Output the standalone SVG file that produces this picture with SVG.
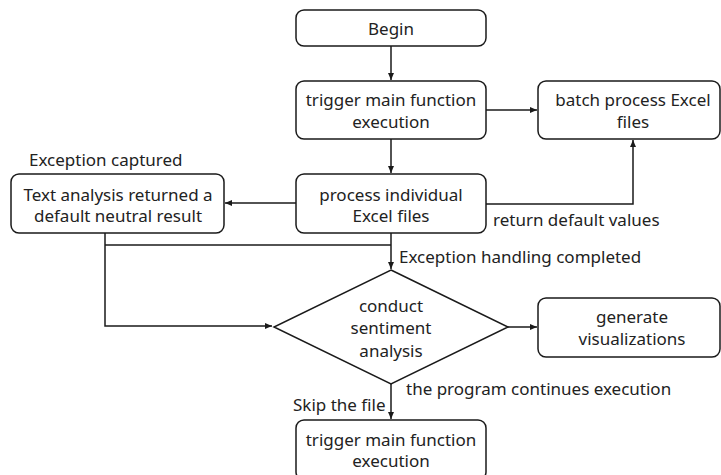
<svg xmlns="http://www.w3.org/2000/svg" width="721" height="475" viewBox="0 0 721 475">
<defs>
<marker id="ah" markerWidth="8" markerHeight="8" refX="7" refY="4" orient="auto" markerUnits="userSpaceOnUse">
<path d="M0,1 L7,4 L0,7 Z" fill="#1a1a1a"/>
</marker>
<style>
.box{fill:#fff;stroke:#1a1a1a;stroke-width:1.5}
.t{font-family:"Noto Sans","Liberation Sans",sans-serif;font-size:17px;fill:#222;text-anchor:middle}
.l{font-family:"Noto Sans","Liberation Sans",sans-serif;font-size:17px;fill:#222}
.c{fill:none;stroke:#1a1a1a;stroke-width:1.5}
</style>
</defs>
<rect width="721" height="475" fill="#fff"/>
<g id="connectors">
<path class="c" d="M391,46 V80" marker-end="url(#ah)"/>
<path class="c" d="M486,110 H537" marker-end="url(#ah)"/>
<path class="c" d="M391,139 V173" marker-end="url(#ah)"/>
<path class="c" d="M296,203 H225" marker-end="url(#ah)"/>
<path class="c" d="M486,204 H633 V140" marker-end="url(#ah)"/>
<path class="c" d="M391,233 V269" marker-end="url(#ah)"/>
<path class="c" d="M105,245 H391"/>
<path class="c" d="M105,233 V326 H272" marker-end="url(#ah)"/>
<path class="c" d="M508,327 H537" marker-end="url(#ah)"/>
<path class="c" d="M391,384 V419" marker-end="url(#ah)"/>
<text class="l" x="29" y="166">Exception captured</text>
<text class="l" x="493" y="226">return default values</text>
<text class="l" x="399" y="263">Exception handling completed</text>
<text class="l" x="406" y="395">the program continues execution</text>
<text class="l" x="293" y="411">Skip the file</text>
</g>
<g id="begin">
<rect class="box" x="296" y="10" width="190" height="36" rx="8"/>
<text class="t" x="391" y="35">Begin</text>
</g>
<g id="trigger1">
<rect class="box" x="296" y="81" width="190" height="58" rx="8"/>
<text class="t" x="391" y="106">trigger main function</text>
<text class="t" x="391" y="128">execution</text>
</g>
<g id="batch">
<rect class="box" x="538" y="81" width="182" height="58" rx="8"/>
<text class="t" x="633" y="106">batch process Excel</text>
<text class="t" x="633" y="128">files</text>
</g>
<g id="process">
<rect class="box" x="296" y="174" width="190" height="59" rx="8"/>
<text class="t" x="391" y="201">process individual</text>
<text class="t" x="391" y="222">Excel files</text>
</g>
<g id="textanalysis">
<rect class="box" x="11" y="174" width="213" height="59" rx="8"/>
<text class="t" x="118" y="201">Text analysis returned a</text>
<text class="t" x="118" y="222">default neutral result</text>
</g>
<g id="sentiment">
<polygon class="box" points="391,270 508,327 391,384 274,327"/>
<text class="t" x="391" y="312">conduct</text>
<text class="t" x="391" y="334">sentiment</text>
<text class="t" x="391" y="357">analysis</text>
</g>
<g id="visual">
<rect class="box" x="538" y="298" width="182" height="59" rx="8"/>
<text class="t" x="632" y="323">generate</text>
<text class="t" x="632" y="345">visualizations</text>
</g>
<g id="trigger2">
<rect class="box" x="296" y="420" width="190" height="60" rx="8"/>
<text class="t" x="391" y="446">trigger main function</text>
<text class="t" x="391" y="467">execution</text>
</g>
</svg>
